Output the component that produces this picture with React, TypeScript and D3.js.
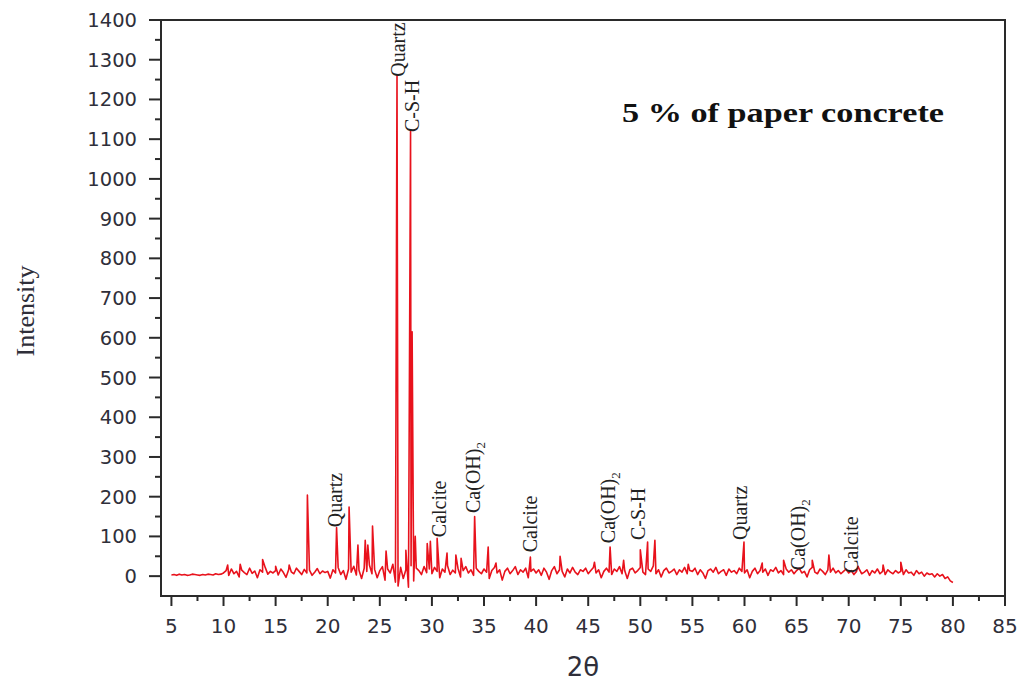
import React, { useEffect, useRef } from "react";
import * as d3 from "d3";

// XRD scan: background counts every 0.25 deg from 5 to 80 (2-theta)
const scanStart = 5;
const scanStep = 0.25;
const background = [
  3, 4, 2, 5, 3, 4, 2, 3, 5, 4, 3, 2, 4, 3, 5, 4, 3, 6, 4, 5,
  8, 14, 2, 18, 6, 12, -2, 15, 9, 4, 20, 7, 13, -4, 16, 10, 22, 5, 12, 8,
  14, 3, 18, 9, -3, 16, 11, 6, 20, 12, 4, 17, 8, 15, 2, 10, 19, 6, 13, 9,
  12, -5, 16, 8, 22, 4, 14, -8, 18, 10, 25, 3, 15, -6, 20, 12, 28, 6, 17, -4,
  14, 24, -10, 18, 8, 30, -15, -25, 22, -6, 16, -28, 26, -12, 20, 14, 4, 24, 9, 18,
  6, 22, 12, -4, 18, 10, 26, 4, 15, 8, 20, -2, 14, 24, 8, 16, 2, 20, 12, 6,
  18, 10, -6, 14, 22, 8, 16, -10, 12, 20, 6, 14, 24, 4, 16, 10, 20, -4, 12, 18,
  8, 16, 2, 20, 10, -8, 14, 24, 6, 16, 12, -2, 18, 8, 22, 10, 4, 16, 12, 20,
  6, 14, 22, 8, 16, -4, 12, 20, 10, 4, 18, 12, 24, 6, 14, -6, 16, 20, 8, 14,
  22, 10, 4, 18, 12, 26, 6, 16, -2, 14, 20, 8, 12, 18, 4, 16, 10, 22, 6, 14,
  12, 20, 4, 16, 8, -6, 14, 18, 10, 22, 6, 12, 16, 2, 18, 10, 14, 6, 20, 12,
  8, 16, -4, 12, 20, 6, 14, 10, 18, 2, 16, 12, 22, 8, 14, 4, 18, 10, 16, 6,
  14, 20, 8, 12, -2, 16, 22, 10, 6, 18, 12, 4, 16, 10, 20, 8, 14, 6, 12, 18,
  8, 14, 4, 12, 18, 6, 10, 16, 2, 14, 8, 18, 6, 12, 4, 16, 10, 6, 14, 8,
  12, 4, 16, 8, 10, 2, 14, 6, 10, 0, 8, 4, 6, -2, 6, 0, 4, -6, -2, -12,
  -16,
];

// sharp reflections: [2-theta, intensity]
const peaks: [number, number][] = [
  [10.4, 28], [11.6, 30], [13.75, 42], [15.0, 25], [16.3, 28], [18.05, 204],
  [20.85, 122], [22.05, 174], [22.9, 78], [23.6, 90], [23.85, 78], [24.3, 126],
  [25.6, 63], [26.65, 1260], [27.5, 65], [27.95, 1120], [28.1, 615], [28.4, 100],
  [29.55, 82], [29.85, 88], [30.5, 95], [31.45, 58], [32.3, 53], [32.8, 45],
  [34.1, 150], [35.4, 73], [36.15, 33], [39.45, 48], [42.3, 50], [45.6, 35],
  [47.1, 73], [48.4, 40], [50.0, 66], [50.7, 86], [51.4, 90], [54.6, 30],
  [59.95, 86], [61.7, 33], [63.75, 40], [66.5, 40], [68.1, 53], [70.9, 25],
  [73.3, 28], [75.0, 35],
];

// phase labels: text, subscript, 2-theta, intensity at the foot of the label
const phaseNames = ["Quartz", "Quartz", "C-S-H", "Calcite", "Ca(OH)", "Calcite", "Ca(OH)", "C-S-H", "Quartz", "Ca(OH)", "Calcite"];
const phaseSubs = ["", "", "", "", "2", "", "2", "", "", "2", ""];
const phaseAngles = [20.67, 26.73, 28.08, 30.67, 33.94, 39.42, 46.92, 49.8, 59.6, 65.1, 70.2];
const phaseFoot = [123, 1257, 1118, 98, 159, 60, 83, 91, 91, 15, 8];

const xTicks = [5, 10, 15, 20, 25, 30, 35, 40, 45, 50, 55, 60, 65, 70, 75, 80, 85];
const xMinor = [7.5, 12.5, 17.5, 22.5, 27.5, 32.5, 37.5, 42.5, 47.5, 52.5, 57.5, 62.5, 67.5, 72.5, 77.5, 82.5];
const yTicks = [0, 100, 200, 300, 400, 500, 600, 700, 800, 900, 1000, 1100, 1200, 1300, 1400];
const yMinor = [50, 150, 250, 350, 450, 550, 650, 750, 850, 950, 1050, 1150, 1250, 1350];

const title = "5 % of paper concrete";

const App = () => {
  const ref = useRef<SVGSVGElement>(null);

  useEffect(() => {
    const svg = d3.select(ref.current);
    svg.selectAll("*").remove();

    const left = 161;
    const right = 1005;
    const top = 20;
    const bottom = 596;

    const x = d3.scaleLinear().domain([4, 85]).range([left, right]);
    const y = d3.scaleLinear().domain([-50, 1400]).range([bottom, top]);

    const axisColor = "#2a2a2a";
    const labelColor = "#2f2f3a";

    // data line
    const points: [number, number][] = background
      .map((v, i) => [scanStart + i * scanStep, v] as [number, number])
      .concat(peaks)
      .sort((a, b) => a[0] - b[0]);

    svg
      .append("path")
      .datum(points)
      .attr("fill", "none")
      .attr("stroke", "#e8121c")
      .attr("stroke-width", 1.6)
      .attr("stroke-linejoin", "round")
      .attr(
        "d",
        d3
          .line<[number, number]>()
          .x((d) => x(d[0]))
          .y((d) => y(d[1]))
      );

    // frame
    const frame = svg.append("g").attr("stroke", axisColor).attr("stroke-width", 2).attr("fill", "none");
    frame.append("rect").attr("x", left).attr("y", top).attr("width", right - left).attr("height", bottom - top);

    // y ticks
    const yg = svg.append("g").attr("stroke", axisColor).attr("stroke-width", 2);
    yg.selectAll("line.major")
      .data(yTicks)
      .join("line")
      .attr("class", "major")
      .attr("x1", left - 12)
      .attr("x2", left)
      .attr("y1", (d) => y(d))
      .attr("y2", (d) => y(d));
    yg.selectAll("line.minor")
      .data(yMinor)
      .join("line")
      .attr("class", "minor")
      .attr("x1", left - 6)
      .attr("x2", left)
      .attr("y1", (d) => y(d))
      .attr("y2", (d) => y(d));

    svg
      .append("g")
      .selectAll("text")
      .data(yTicks)
      .join("text")
      .attr("x", left - 24)
      .attr("y", (d) => y(d))
      .attr("dy", "0.36em")
      .attr("text-anchor", "end")
      .attr("fill", labelColor)
      .attr("font-family", "DejaVu Sans, sans-serif")
      .attr("font-size", 19.5)
      .text((d) => d);

    // x ticks
    const xg = svg.append("g").attr("stroke", axisColor).attr("stroke-width", 2);
    xg.selectAll("line.major")
      .data(xTicks)
      .join("line")
      .attr("class", "major")
      .attr("x1", (d) => x(d))
      .attr("x2", (d) => x(d))
      .attr("y1", bottom)
      .attr("y2", bottom + 10);
    xg.selectAll("line.minor")
      .data(xMinor)
      .join("line")
      .attr("class", "minor")
      .attr("x1", (d) => x(d))
      .attr("x2", (d) => x(d))
      .attr("y1", bottom)
      .attr("y2", bottom + 5);

    svg
      .append("g")
      .selectAll("text")
      .data(xTicks)
      .join("text")
      .attr("x", (d) => x(d))
      .attr("y", bottom + 37)
      .attr("text-anchor", "middle")
      .attr("fill", labelColor)
      .attr("font-family", "DejaVu Sans, sans-serif")
      .attr("font-size", 20)
      .text((d) => d);

    // axis titles
    svg
      .append("text")
      .attr("transform", `translate(34,311) rotate(-90)`)
      .attr("text-anchor", "middle")
      .attr("fill", labelColor)
      .attr("font-family", "Liberation Serif, serif")
      .attr("font-size", 26)
      .text("Intensity");

    svg
      .append("text")
      .attr("x", 583)
      .attr("y", 676)
      .attr("text-anchor", "middle")
      .attr("fill", labelColor)
      .attr("font-family", "DejaVu Sans, sans-serif")
      .attr("font-size", 26)
      .text("2θ");

    // title
    svg
      .append("text")
      .attr("x", 622)
      .attr("y", 122)
      .attr("fill", "#111")
      .attr("font-family", "Liberation Serif, serif")
      .attr("font-weight", "bold")
      .attr("font-size", 27)
      .attr("textLength", 322)
      .attr("lengthAdjust", "spacingAndGlyphs")
      .text(title);

    // phase labels
    const lg = svg.append("g").attr("font-family", "Liberation Serif, serif").attr("font-size", 20).attr("fill", "#222");
    phaseNames.forEach((name, i) => {
      const t = lg
        .append("text")
        .attr("transform", `translate(${x(phaseAngles[i]) + 7},${y(phaseFoot[i])}) rotate(-90)`)
        .text(name);
      if (phaseSubs[i]) {
        t.append("tspan").attr("font-size", 13).attr("dy", 5).text(phaseSubs[i]);
      }
    });
  }, []);

  return (
    <div style={{ position: "absolute", left: 0, top: 0 }}>
      <svg ref={ref} width={1024} height={686} style={{ display: "block", background: "#fff" }} />
    </div>
  );
};

export default App;
